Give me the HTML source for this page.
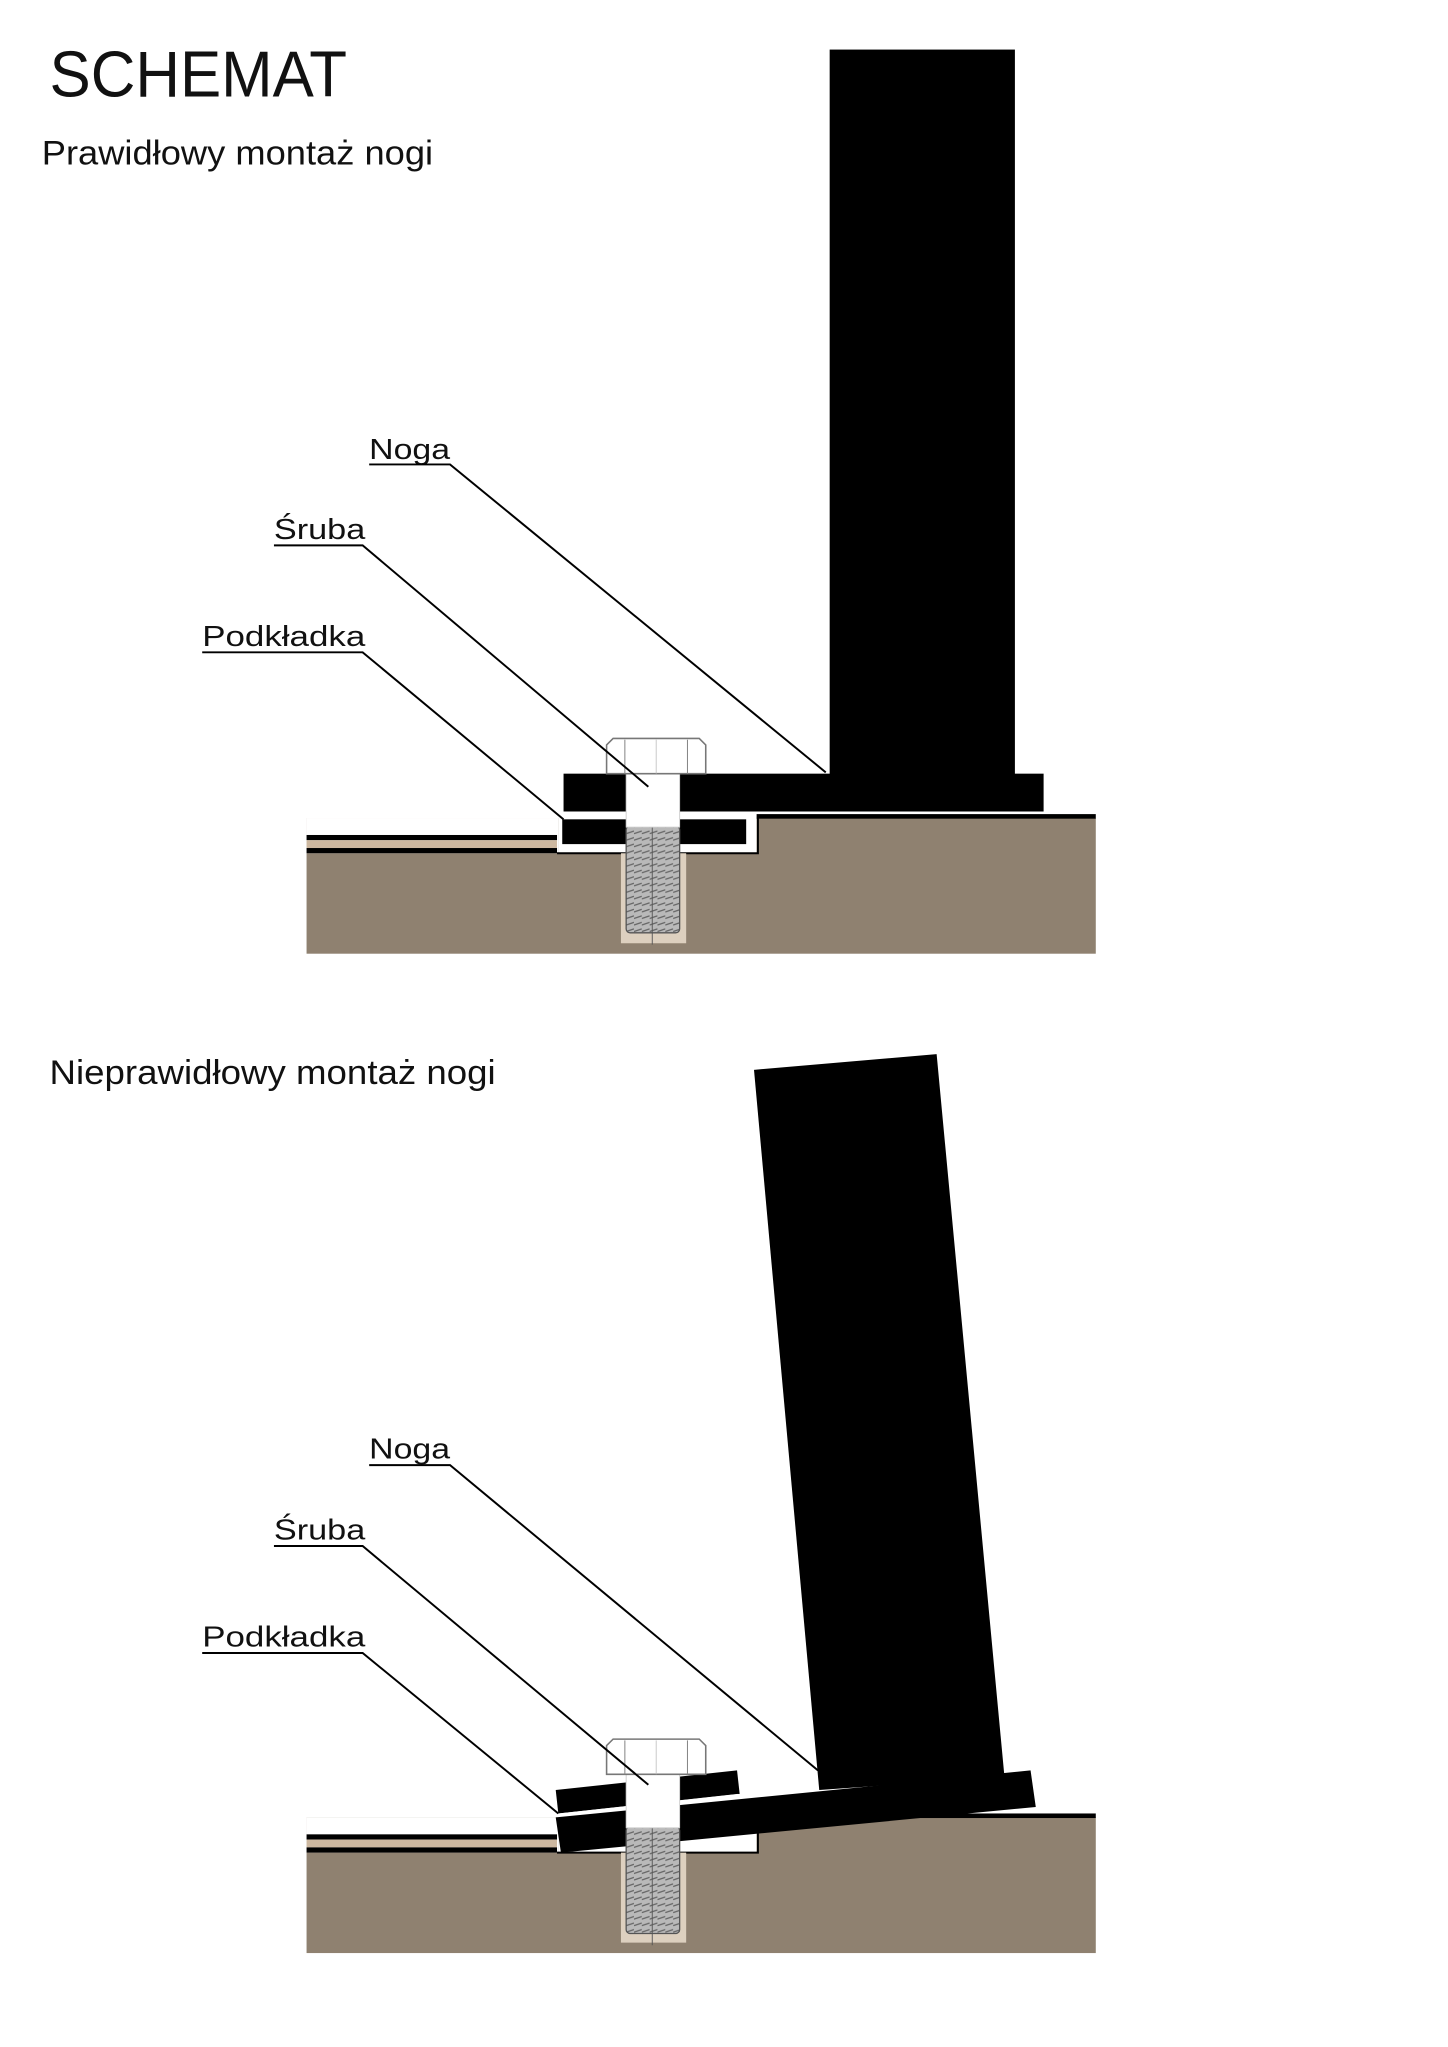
<!DOCTYPE html>
<html><head><meta charset="utf-8"><style>
html,body{margin:0;padding:0;background:#fff;}
svg{display:block;}
text{font-family:"Liberation Sans",sans-serif;fill:#111;}
</style></head><body>
<svg width="1448" height="2047" viewBox="0 0 1110 1569" preserveAspectRatio="none" xmlns="http://www.w3.org/2000/svg">
<defs>
<pattern id="thr" width="6" height="5" patternUnits="userSpaceOnUse">
<rect width="6" height="5" fill="#b9b9b9"/><path d="M0 4 L6 2" stroke="#666" stroke-width="1"/>
</pattern>
<g id="base">
  <!-- ground -->
  <rect x="235" y="627" width="605" height="104" fill="#8f8170"/>
  <rect x="235" y="627" width="193" height="27" fill="#fff"/>
  <!-- recess -->
  <path d="M428 654 L428 626 L580 626 L580 654 Z" fill="#fff"/>
  <path d="M427 654 L581 654 L581 626" fill="none" stroke="#000" stroke-width="1.5"/>
  <rect x="580" y="624" width="260" height="3.5" fill="#000"/>
  <!-- left panel -->
  <rect x="235" y="640" width="192" height="4" fill="#000"/>
  <rect x="235" y="644" width="192" height="6" fill="#cdb8a0"/>
  <rect x="235" y="650" width="192" height="4" fill="#000"/>
  <!-- hole -->
  <rect x="476" y="654" width="50" height="69" fill="#ddd0bf"/>
</g>
<g id="bolt">
  <rect x="480" y="633" width="41" height="82" rx="3" fill="url(#thr)" stroke="#555" stroke-width="1"/>
  <line x1="500" y1="633" x2="500" y2="724" stroke="#555" stroke-width="0.7"/>
  <rect x="480" y="593" width="41" height="41" fill="#fff" stroke="#ccc" stroke-width="0.7"/>
  <path d="M465 593 L465 571 L470 566 L536 566 L541 571 L541 593 Z" fill="#fff" stroke="#777" stroke-width="1.2"/>
  <line x1="479" y1="567" x2="479" y2="593" stroke="#888" stroke-width="0.8"/>
  <line x1="527" y1="567" x2="527" y2="593" stroke="#888" stroke-width="0.8"/>
  <line x1="503" y1="567" x2="503" y2="593" stroke="#bbb" stroke-width="0.6"/>
</g>
</defs>

<text x="38" y="74" font-size="50" textLength="228" lengthAdjust="spacingAndGlyphs">SCHEMAT</text>
<text x="32" y="126" font-size="26" textLength="300" lengthAdjust="spacingAndGlyphs">Prawidłowy montaż nogi</text>

<!-- TOP -->
<use href="#base"/>
<rect x="431" y="628" width="141" height="19" fill="#000"/>
<rect x="636" y="38" width="142" height="560" fill="#000"/>
<rect x="432" y="593" width="368" height="29" fill="#000"/>
<use href="#bolt"/>

<g font-size="22">
<text x="283" y="352" textLength="62" lengthAdjust="spacingAndGlyphs">Noga</text>
<text x="210" y="413" textLength="70" lengthAdjust="spacingAndGlyphs">Śruba</text>
<text x="155" y="495" textLength="125" lengthAdjust="spacingAndGlyphs">Podkładka</text>
</g>
<g stroke="#000" stroke-width="1.5" fill="none">
<path d="M283 356 L345 356 L633 592"/>
<path d="M210 418 L278 418 L497 603"/>
<path d="M155 500 L278 500 L432 628"/>
</g>

<!-- BOTTOM -->
<text x="38" y="831" font-size="26" textLength="342" lengthAdjust="spacingAndGlyphs">Nieprawidłowy montaż nogi</text>
<g transform="translate(0,766)">
<use href="#base"/>
</g>
<polygon points="578,820 718,808 770,1362 628,1372" fill="#000"/>
<polygon points="426,1393 790,1357 794,1385 430,1420" fill="#000"/>
<polygon points="426,1372 565,1357 567,1375 428,1390" fill="#000"/>
<line x1="428" y1="1391" x2="566" y2="1376" stroke="#fff" stroke-width="2"/>
<g transform="translate(0,767)">
<use href="#bolt"/>
</g>

<g font-size="22">
<text x="283" y="1118" textLength="62" lengthAdjust="spacingAndGlyphs">Noga</text>
<text x="210" y="1180" textLength="70" lengthAdjust="spacingAndGlyphs">Śruba</text>
<text x="155" y="1262" textLength="125" lengthAdjust="spacingAndGlyphs">Podkładka</text>
</g>
<g stroke="#000" stroke-width="1.5" fill="none">
<path d="M283 1123 L345 1123 L627 1357"/>
<path d="M210 1185 L278 1185 L497 1368"/>
<path d="M155 1267 L278 1267 L428 1390"/>
</g>
</svg>
</body></html>
